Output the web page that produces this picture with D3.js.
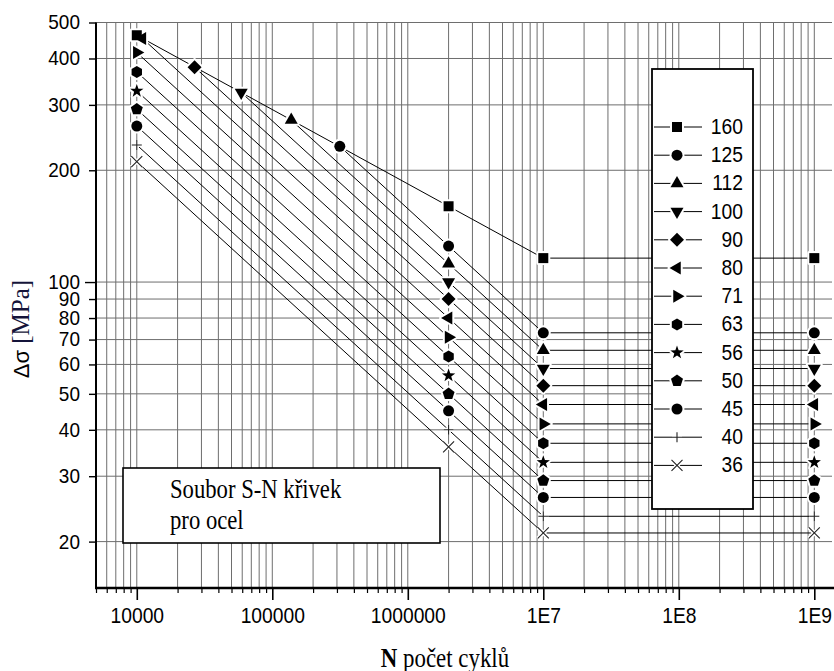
<!DOCTYPE html>
<html><head><meta charset="utf-8">
<script src="https://cdn.jsdelivr.net/npm/d3@7"></script>
<style>body{margin:0;background:#fff}svg{display:block}</style>
</head><body>
<svg id="c" width="834" height="671"></svg>
<script>
// ---- data ----
const categories = [160,125,112,100,90,80,71,63,56,50,45,40,36];
const seriesN = [
  [1e4, 2e6, 1e7, 1e9],
  [3.15e5, 2e6, 1e7, 1e9],
  [1.38e5, 2e6, 1e7, 1e9],
  [5.9e4, 2e6, 1e7, 1e9],
  [2.67e4, 2e6, 1e7, 1e9],
  [1.1e4, 2e6, 1e7, 1e9],
  [1e4, 2e6, 1e7, 1e9],
  [1e4, 2e6, 1e7, 1e9],
  [1e4, 2e6, 1e7, 1e9],
  [1e4, 2e6, 1e7, 1e9],
  [1e4, 2e6, 1e7, 1e9],
  [1e4, 2e6, 1e7, 1e9],
  [1e4, 2e6, 1e7, 1e9]
];
const seriesS = [
  [462, 160, 116, 116],
  [232, 125, 73, 73],
  [273, 112, 65.5, 65.5],
  [324, 100, 58.5, 58.5],
  [379, 90, 52.6, 52.6],
  [453, 80, 46.8, 46.8],
  [415, 71, 41.5, 41.5],
  [368, 63, 36.8, 36.8],
  [327, 56, 32.7, 32.7],
  [292, 50, 29.2, 29.2],
  [263, 45, 26.3, 26.3],
  [234, 40, 23.4, 23.4],
  [211, 36, 21.1, 21.1]
];
const yTickValues = [500,400,300,200,100,90,80,70,60,50,40,30,20];
const xTickValues = [1e4,1e5,1e6,1e7,1e8,1e9];
const xTickLabels = ["10000","100000","1000000","1E7","1E8","1E9"];
const markerKinds = ["square","circle","triUp","triDown","diamond","triLeft","triRight","hexagon","star","pentagon","circle","plus","cross"];

// ---- setup ----
const W = 834, H = 671;
const svg = d3.select("#c");
svg.append("rect").attr("width", W).attr("height", H).attr("fill", "#fff");
const x = d3.scaleLog().domain([5000, 1e9]).range([96, 814.3]);
const y = d3.scaleLog().domain([15, 500]).range([588, 22.5]);
const plotRight = 832;
const SANS = "'Liberation Sans', Arial, sans-serif";
const SERIF = "'Liberation Serif', 'Times New Roman', serif";

// grid
const gGrid = svg.append("g").attr("stroke", "#6e6e6e").attr("stroke-width", 1);
gGrid.selectAll("line.v").data(x.ticks()).join("line").attr("class","v")
  .attr("x1", d => x(d)).attr("x2", d => x(d))
  .attr("y1", y(500)).attr("y2", y(15));
gGrid.selectAll("line.h").data(yTickValues).join("line").attr("class","h")
  .attr("x1", x(5000)).attr("x2", plotRight)
  .attr("y1", d => y(d)).attr("y2", d => y(d));

// marker paths
function poly(p, n, r, rot) {
  for (let i = 0; i < n; i++) {
    const a = rot + i * 2 * Math.PI / n;
    const px = r * Math.cos(a), py = r * Math.sin(a);
    if (i === 0) p.moveTo(px, py); else p.lineTo(px, py);
  }
  p.closePath();
}
function markerPath(kind) {
  const p = d3.path();
  switch (kind) {
    case "square": p.rect(-5, -5, 10, 10); break;
    case "circle": p.arc(0, 0, 5.5, 0, 2 * Math.PI); p.closePath(); break;
    case "triUp": poly(p, 3, 7.5, -Math.PI / 2); break;
    case "triDown": poly(p, 3, 7.5, Math.PI / 2); break;
    case "triLeft": poly(p, 3, 7.5, Math.PI); break;
    case "triRight": poly(p, 3, 7.5, 0); break;
    case "diamond": poly(p, 4, 7, -Math.PI / 2); break;
    case "hexagon": poly(p, 6, 6, -Math.PI / 2); break;
    case "pentagon": poly(p, 5, 6.3, -Math.PI / 2); break;
    case "star": {
      for (let i = 0; i < 10; i++) {
        const r = i % 2 ? 2.8 : 7;
        const a = -Math.PI / 2 + i * Math.PI / 5;
        if (i === 0) p.moveTo(r * Math.cos(a), r * Math.sin(a)); else p.lineTo(r * Math.cos(a), r * Math.sin(a));
      }
      p.closePath(); break;
    }
    case "plus": p.moveTo(-5, 0); p.lineTo(5, 0); p.moveTo(0, -5); p.lineTo(0, 5); break;
    case "cross": p.moveTo(-5.5, -5.5); p.lineTo(5.5, 5.5); p.moveTo(-5.5, 5.5); p.lineTo(5.5, -5.5); break;
  }
  return p.toString();
}
const isLineMarker = k => k === "plus" || k === "cross";

function drawMarkers(g, pts) {
  g.selectAll("path.halo").data(pts).join("path").attr("class", "halo")
    .attr("transform", d => `translate(${d.cx},${d.cy})`)
    .attr("d", d => markerPath(d.kind))
    .attr("fill", d => isLineMarker(d.kind) ? "none" : "#fff")
    .attr("stroke", "#fff").attr("stroke-width", 4).attr("stroke-linejoin", "round");
  g.selectAll("path.mk").data(pts).join("path").attr("class", "mk")
    .attr("transform", d => `translate(${d.cx},${d.cy})`)
    .attr("d", d => markerPath(d.kind))
    .attr("fill", d => isLineMarker(d.kind) ? "none" : "#000")
    .attr("stroke", d => isLineMarker(d.kind) ? "#222" : "none")
    .attr("stroke-width", 1.1);
}

// series lines
const line = d3.line().x(d => x(d[0])).y(d => y(d[1]));
const gLines = svg.append("g").attr("fill", "none").attr("stroke", "#000").attr("stroke-width", 1);
categories.forEach((c, i) => {
  const pts = seriesN[i].map((n, j) => [n, seriesS[i][j]]);
  gLines.append("path").attr("d", line(pts));
});
const allPts = [];
categories.forEach((c, i) => {
  seriesN[i].forEach((n, j) => allPts.push({ cx: x(n), cy: y(seriesS[i][j]), kind: markerKinds[i] }));
});
drawMarkers(svg.append("g"), allPts);

// axes
const yAxis = d3.axisLeft(y).tickValues(yTickValues).tickFormat(d3.format("d"))
  .tickSize(7).tickPadding(9).tickSizeOuter(0);
const gy = svg.append("g").attr("transform", `translate(${x(5000)},0)`).call(yAxis);
gy.select(".domain").remove();
gy.attr("font-family", SANS).attr("font-size", 20);
gy.selectAll(".tick line").attr("stroke", "#000").attr("stroke-width", 1.4)
  .attr("x2", d => Math.abs(Math.log10(d) - Math.round(Math.log10(d))) < 1e-9 ? -11 : -7);
gy.selectAll(".tick text").attr("fill", "#000")
  .attr("transform", "translate(-16,0) scale(0.95,1)").attr("x", 0);

const majorIdx = d => xTickValues.findIndex(v => Math.abs(Math.log10(v) - Math.log10(d)) < 1e-9);
const xAxis = d3.axisBottom(x).tickValues(x.ticks())
  .tickFormat(d => { const k = majorIdx(d); return k >= 0 ? xTickLabels[k] : ""; })
  .tickSize(5).tickPadding(14).tickSizeOuter(0);
const gx = svg.append("g").attr("transform", `translate(0,${y(15)})`).call(xAxis);
gx.select(".domain").remove();
gx.attr("font-family", SANS).attr("font-size", 20.5);
gx.selectAll(".tick line").attr("stroke", "#000")
  .attr("stroke-width", d => majorIdx(d) >= 0 ? 1.6 : 1.2)
  .attr("y2", d => majorIdx(d) >= 0 ? 12 : 5);
gx.selectAll(".tick text").attr("fill", "#000")
  .attr("transform", "translate(0,19) scale(0.94,1.08)").attr("y", 0);

svg.append("line").attr("x1", x(5000)).attr("x2", x(5000)).attr("y1", y(500)).attr("y2", y(15) + 1)
  .attr("stroke", "#000").attr("stroke-width", 2);
svg.append("line").attr("x1", x(5000) - 1).attr("x2", W).attr("y1", y(15)).attr("y2", y(15))
  .attr("stroke", "#000").attr("stroke-width", 2.5);

// text box
svg.append("rect").attr("x", 123).attr("y", 468).attr("width", 317).attr("height", 75)
  .attr("fill", "#fff").attr("stroke", "#000").attr("stroke-width", 1.6);
const tb = [["Soubor S-N křivek", 498], ["pro ocel", 529]];
tb.forEach(([t, by]) => {
  svg.append("text").attr("transform", `translate(170,${by}) scale(0.84,1.05)`)
    .attr("font-family", SERIF).attr("font-size", 27).attr("fill", "#000").text(t);
});

// legend
svg.append("rect").attr("x", 652).attr("y", 69).attr("width", 101).attr("height", 440)
  .attr("fill", "#fff").attr("stroke", "#000").attr("stroke-width", 1.8);
const legY = i => 127 + i * 28.2;
const gLeg = svg.append("g");
gLeg.selectAll("line").data(categories).join("line")
  .attr("x1", 654).attr("x2", 702).attr("y1", (d, i) => legY(i)).attr("y2", (d, i) => legY(i))
  .attr("stroke", "#000").attr("stroke-width", 1);
drawMarkers(gLeg.append("g"), categories.map((c, i) => ({ cx: 677, cy: legY(i), kind: markerKinds[i] })));
gLeg.selectAll("text").data(categories).join("text")
  .attr("transform", (d, i) => `translate(743,${legY(i) + 7}) scale(0.94,1.08)`)
  .attr("text-anchor", "end")
  .attr("font-family", SANS).attr("font-size", 20.5).attr("fill", "#000").text(d => d);

// axis titles
const yl = svg.append("text").attr("transform", "translate(29,329) rotate(-90)")
  .attr("text-anchor", "middle").attr("fill", "#000");
yl.append("tspan").attr("font-family", SANS).attr("font-size", 22).text("Δσ ");
yl.append("tspan").attr("font-family", SERIF).attr("font-size", 25).attr("fill", "#14143a").text("[MPa]");

const xl = svg.append("text").attr("transform", "translate(445,667) scale(0.88,1.05)")
  .attr("text-anchor", "middle").attr("font-family", SERIF).attr("font-size", 26).attr("fill", "#000");
xl.append("tspan").attr("font-weight", "bold").text("N");
xl.append("tspan").text(" počet cyklů");
</script>
</body></html>
